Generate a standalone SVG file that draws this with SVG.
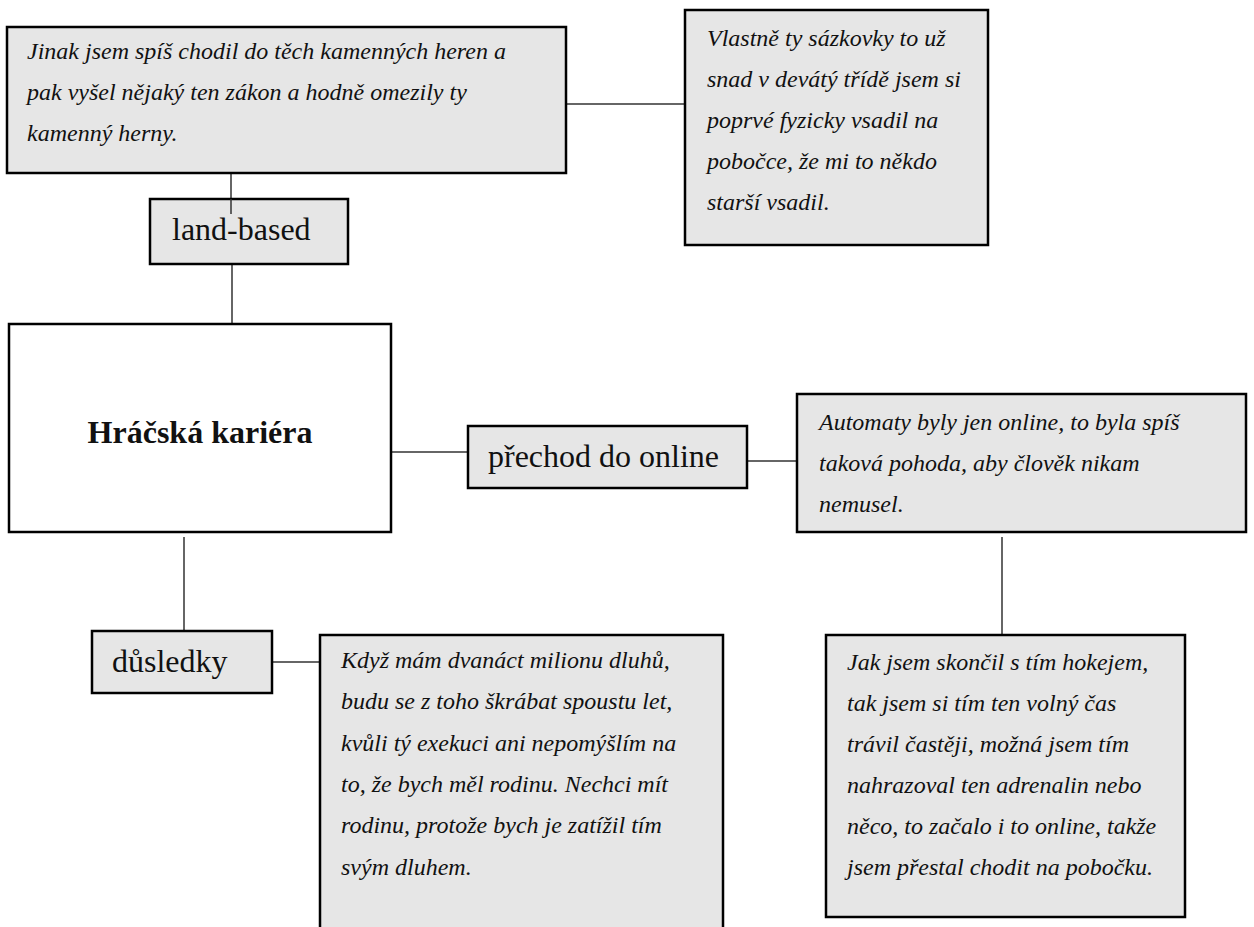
<svg xmlns="http://www.w3.org/2000/svg" width="1254" height="927" viewBox="0 0 1254 927">
<style>
.box{fill:#e6e6e6;stroke:#000;stroke-width:2.5}
.main{fill:#fff;stroke:#000;stroke-width:2.5}
.con{stroke:#333;stroke-width:1.5;fill:none}
.q{font-family:"Liberation Serif","Times New Roman",serif;font-style:italic;font-size:24px;fill:#111}
.lbl{font-family:"Liberation Serif","Times New Roman",serif;font-size:32px;fill:#111}
.title{font-family:"Liberation Serif","Times New Roman",serif;font-size:32px;font-weight:bold;fill:#111}
</style>
<rect width="1254" height="927" fill="#fff"/>
<g id="connectors">
<line class="con" x1="566" y1="104" x2="685" y2="104"/>
<line class="con" x1="231" y1="173" x2="231" y2="214"/>
<line class="con" x1="232" y1="265" x2="232" y2="324"/>
<line class="con" x1="390" y1="452" x2="468" y2="452"/>
<line class="con" x1="747" y1="461" x2="797" y2="461"/>
<line class="con" x1="1002" y1="537" x2="1002" y2="634"/>
<line class="con" x1="184" y1="537" x2="184" y2="631"/>
<line class="con" x1="272" y1="662" x2="320" y2="662"/>
</g>
<g id="quote-land">
<rect class="box" x="7" y="27" width="559" height="146"/>
<text class="q" x="27" y="59">Jinak jsem spíš chodil do těch kamenných heren a</text>
<text class="q" x="27" y="100">pak vyšel nějaký ten zákon a hodně omezily ty</text>
<text class="q" x="27" y="141">kamenný herny.</text>
</g>
<g id="quote-sazkovky">
<rect class="box" x="685" y="10" width="303" height="235"/>
<text class="q" x="707" y="46">Vlastně ty sázkovky to už</text>
<text class="q" x="707" y="87">snad v devátý třídě jsem si</text>
<text class="q" x="707" y="128">poprvé fyzicky vsadil na</text>
<text class="q" x="707" y="169">pobočce, že mi to někdo</text>
<text class="q" x="707" y="210">starší vsadil.</text>
</g>
<g id="land-based">
<rect class="box" x="150" y="199" width="198" height="65"/>
<line class="con" x1="231" y1="199" x2="231" y2="214"/>
<text class="lbl" x="172" y="240">land-based</text>
</g>
<g id="hracska-kariera">
<rect class="main" x="9" y="324" width="382" height="208"/>
<text class="title" x="200" y="443" text-anchor="middle">Hráčská kariéra</text>
</g>
<g id="prechod">
<rect class="box" x="468" y="426" width="279" height="62"/>
<text class="lbl" x="488" y="467">přechod do online</text>
</g>
<g id="quote-automaty">
<rect class="box" x="797" y="394" width="449" height="138"/>
<text class="q" x="819" y="430">Automaty byly jen online, to byla spíš</text>
<text class="q" x="819" y="471">taková pohoda, aby člověk nikam</text>
<text class="q" x="819" y="512">nemusel.</text>
</g>
<g id="quote-hokej">
<rect class="box" x="826" y="635" width="359" height="282"/>
<text class="q" x="847" y="670">Jak jsem skončil s tím hokejem,</text>
<text class="q" x="847" y="711">tak jsem si tím ten volný čas</text>
<text class="q" x="847" y="752">trávil častěji, možná jsem tím</text>
<text class="q" x="847" y="793">nahrazoval ten adrenalin nebo</text>
<text class="q" x="847" y="834">něco, to začalo i to online, takže</text>
<text class="q" x="847" y="875">jsem přestal chodit na pobočku.</text>
</g>
<g id="dusledky">
<rect class="box" x="92" y="631" width="180" height="62"/>
<text class="lbl" x="112" y="672">důsledky</text>
</g>
<g id="quote-dluhy">
<rect class="box" x="320" y="635" width="403" height="310"/>
<text class="q" x="341" y="668">Když mám dvanáct milionu dluhů,</text>
<text class="q" x="341" y="709">budu se z toho škrábat spoustu let,</text>
<text class="q" x="341" y="751">kvůli tý exekuci ani nepomýšlím na</text>
<text class="q" x="341" y="792">to, že bych měl rodinu. Nechci mít</text>
<text class="q" x="341" y="833">rodinu, protože bych je zatížil tím</text>
<text class="q" x="341" y="875">svým dluhem.</text>
</g>
</svg>
